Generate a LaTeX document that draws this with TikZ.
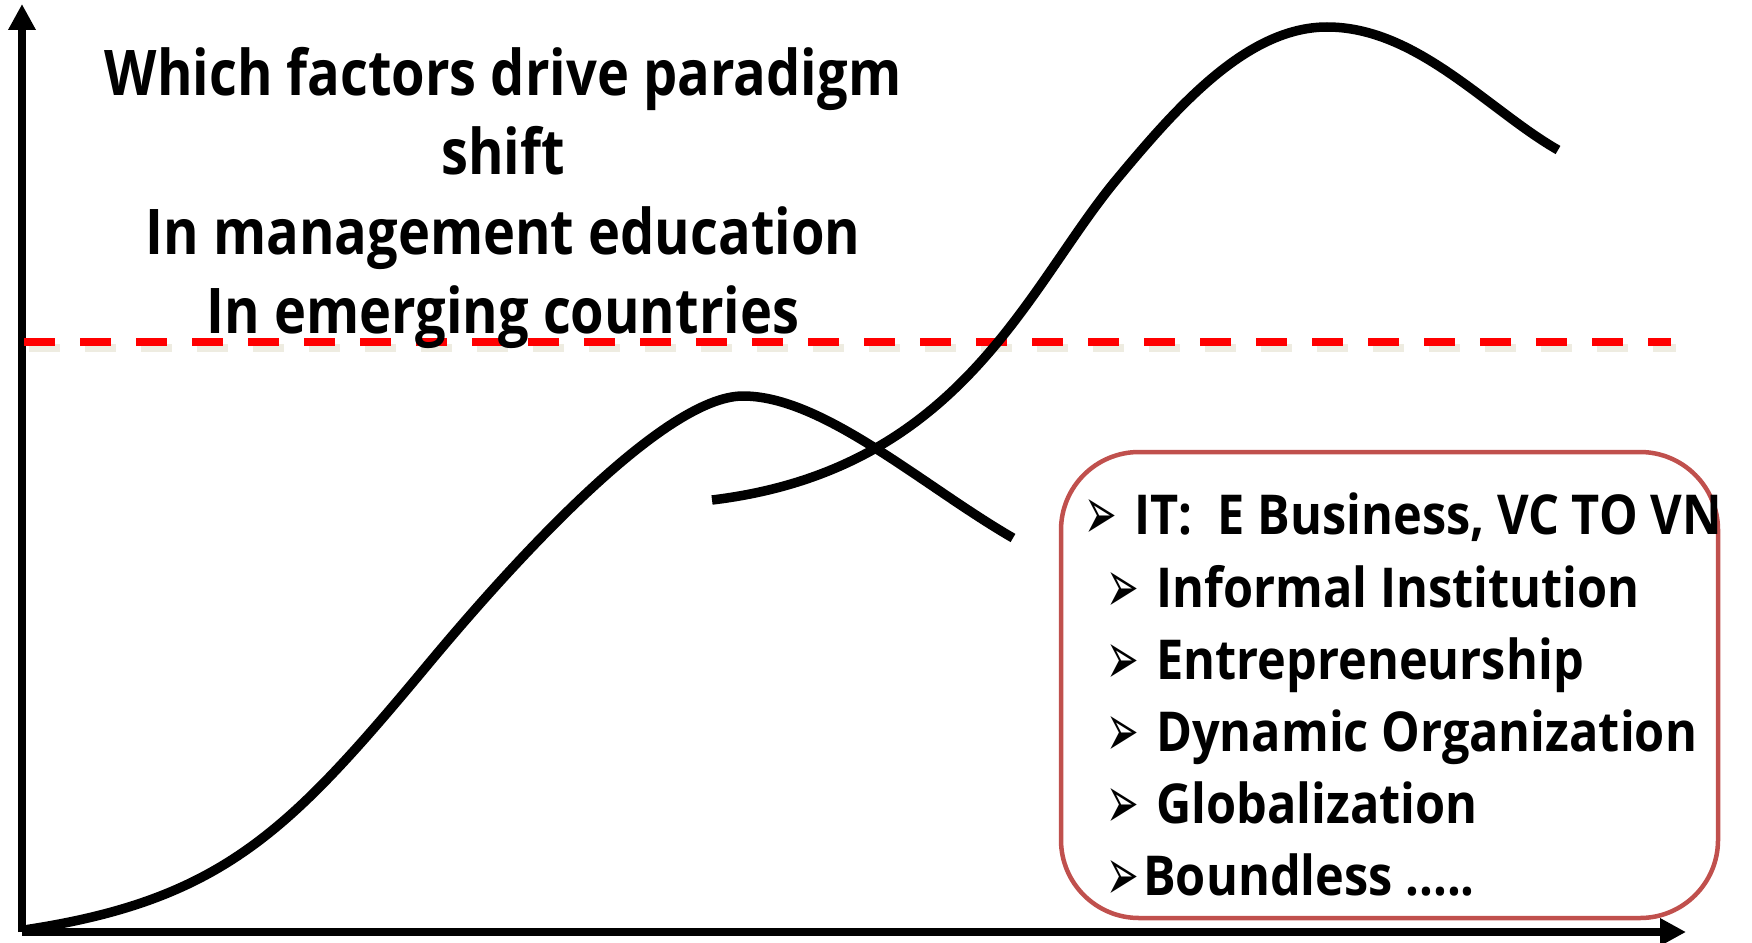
\documentclass[tikz,border=0pt]{standalone}
\usepackage{fontspec}
\usepackage{graphicx}
\setmainfont[FakeStretch=0.86]{Open Sans}
\newfontfamily\factorfont[FakeStretch=0.885]{Open Sans}
\newfontfamily\arrowfont{DejaVu Sans}
\usetikzlibrary{arrows.meta}

\definecolor{boxred}{RGB}{192,80,77}
\definecolor{dashshadow}{RGB}{238,236,225}

\tikzset{
  axisline/.style={line width=8pt, -{Triangle[width=26pt,length=26pt]}},
  trend/.style={line width=9.5pt},
  threshold/.style={red, line width=8pt, dash pattern=on 31pt off 25pt},
  titleline/.style={anchor=base, inner sep=0pt, font=\fontsize{63}{76}\selectfont\bfseries},
  factor/.style={anchor=base west, inner sep=0pt, font=\factorfont\fontsize{55}{66}\selectfont\bfseries},
}
\newcommand{\bul}[1]{\makebox[#1][l]{\raisebox{-5pt}{\scalebox{0.78}[1.5]{\arrowfont\fontsize{50}{50}\selectfont ➢}}}}

\begin{document}
\begin{tikzpicture}[x=1pt, y=-1pt]
  \useasboundingbox (0,0) rectangle (1752,942);

  % axes
  \coordinate (origin) at (22,932);
  \coordinate (ytop) at (22,4);
  \coordinate (xend) at (1686,932);
  \draw[axisline] (origin) -- (ytop);
  \draw[axisline] (origin) -- (xend);

  % threshold line with its shadow
  \draw[threshold, dashshadow] (29,348) -- (1676,348);
  \draw[threshold] (24,342) -- (1671,342);

  % the two curves
  \draw[trend] (24,930) .. controls (224,900) and (290,830) .. (430,662)
    .. controls (510,566) and (663,396) .. (743,396)
    .. controls (823,396) and (923,486) .. (1013,538);
  \draw[trend] (712,500) .. controls (962,470) and (1027,287) .. (1117,179)
    .. controls (1177,107) and (1247,27) .. (1327,27)
    .. controls (1417,27) and (1488,110) .. (1558,150);

  % question
  \node[titleline] (q1) at (503,95) {Which factors drive paradigm};
  \node[titleline] (q2) at (503,174) {shift};
  \node[titleline] (q3) at (503,254) {In management education};
  \node[titleline] (q4) at (503,333) {In emerging countries};

  % factors
  \node[draw=boxred, line width=4.5pt, rounded corners=78pt, minimum width=657pt,
    minimum height=466pt] (factors) at (1389.5,685) {};
  \node[factor] (it) at (1084,534) {\bul{50pt}IT:\ \ E Business, VC TO VN};
  \node[factor] (inst) at (1106,607) {\bul{50pt}Informal Institution};
  \node[factor] (entr) at (1106,679) {\bul{50pt}Entrepreneurship};
  \node[factor] (dyn) at (1106,751) {\bul{50pt}Dynamic Organization};
  \node[factor] (glob) at (1106,823) {\bul{50pt}Globalization};
  \node[factor] (bound) at (1106,895) {\bul{37pt}Boundless .....};
\end{tikzpicture}
\end{document}
